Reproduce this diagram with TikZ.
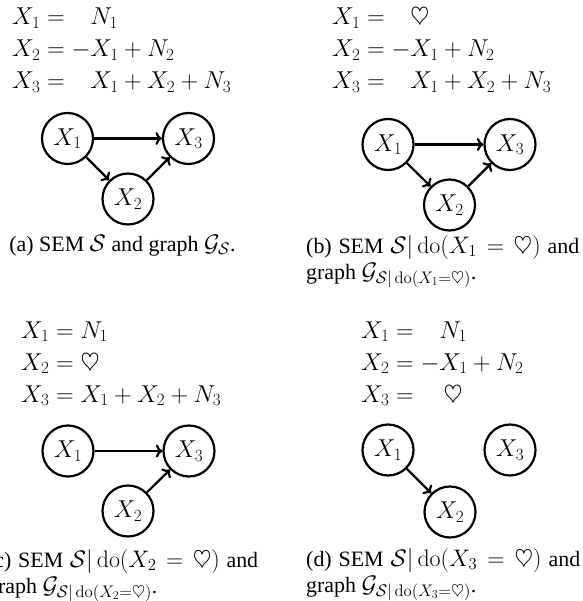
\documentclass[tikz,border=0pt]{standalone}
\usepackage{fix-cm}
\usepackage[no-math]{fontspec}
\setmainfont{Liberation Serif}
\usetikzlibrary{arrows.meta}
\newcommand{\capmath}[1]{{\fontsize{24}{28}\selectfont$#1$}}
\tikzset{
 eqtext/.style={anchor=base west, inner sep=0pt, font=\fontsize{24.5}{29}\selectfont},
 captext/.style={anchor=base west, inner sep=0pt, font=\fontsize{22}{26}\selectfont},
 varnode/.style={circle, draw, line width=2.2bp, minimum size=51bp, inner sep=0pt, font=\fontsize{24.5}{29}\selectfont},
 causal/.style={line width=2.2bp, -{To[length=6.5bp,width=13bp]}},
}
\begin{document}
\begin{tikzpicture}[x=1bp,y=-1bp]
\useasboundingbox (0,0) rectangle (583,601);
% ---------- (a)
\node[eqtext] (a1l) at (12,24.5) {$X_1 = \phantom{-}N_1$};
\node[eqtext] (a2l) at (12,57) {$X_2 = -X_1 + N_2$};
\node[eqtext] (a3l) at (12,89) {$X_3 = \phantom{-}X_1 + X_2 + N_3$};
\node[varnode] (a1) at (67.5,138.5) {$X_1$};
\node[varnode] (a3) at (188.5,138.5) {$X_3$};
\node[varnode] (a2) at (128,199) {$X_2$};
\draw[causal] (a1) -- (a3);
\draw[causal] (a1) -- (a2);
\draw[causal] (a2) -- (a3);
\node[captext, anchor=base] (acap) at (122.5,251) {(a) SEM \capmath{\mathcal{S}} and graph \capmath{\mathcal{G}_{\mathcal{S}}}.};
% ---------- (b)
\node[eqtext] (b1l) at (332,24.5) {$X_1 = \phantom{-}\heartsuit$};
\node[eqtext] (b2l) at (332,57) {$X_2 = -X_1 + N_2$};
\node[eqtext] (b3l) at (332,89) {$X_3 = \phantom{-}X_1 + X_2 + N_3$};
\node[varnode] (b1) at (388,144.5) {$X_1$};
\node[varnode] (b3) at (510,144.5) {$X_3$};
\node[varnode] (b2) at (449.5,205) {$X_2$};
\draw[causal] (b1) -- (b3);
\draw[causal] (b1) -- (b2);
\draw[causal] (b2) -- (b3);
\node[captext] (bcap1) at (306,253) {\makebox[273bp][s]{(b) SEM \capmath{\mathcal{S}|\,\mathrm{do}(X_1 = \heartsuit)} and}};
\node[captext] (bcap2) at (306,279) {graph \capmath{\mathcal{G}_{\mathcal{S}|\,\mathrm{do}(X_1=\heartsuit)}}.};
% ---------- (c)
\node[eqtext] (c1) at (21,338) {$X_1 = N_1$};
\node[eqtext] (c2) at (21,370) {$X_2 = \heartsuit$};
\node[eqtext] (c3) at (21,402) {$X_3 = X_1 + X_2 + N_3$};
\node[varnode] (cx1) at (68,451) {$X_1$};
\node[varnode] (cx3) at (189,451) {$X_3$};
\node[varnode] (cx2) at (128,511) {$X_2$};
\draw[causal] (cx1) -- (cx3);
\draw[causal] (cx2) -- (cx3);
\node[captext] (ccap1) at (-13,567) {\makebox[271bp][s]{(c) SEM \capmath{\mathcal{S}|\,\mathrm{do}(X_2 = \heartsuit)} and}};
\node[captext] (ccap2) at (-13,593) {graph \capmath{\mathcal{G}_{\mathcal{S}|\,\mathrm{do}(X_2=\heartsuit)}}.};
% ---------- (d)
\node[eqtext] (d1l) at (361,338) {$X_1 = \phantom{-}N_1$};
\node[eqtext] (d2) at (361,370) {$X_2 = -X_1 + N_2$};
\node[eqtext] (d3l) at (361,402) {$X_3 = \phantom{-}\,\heartsuit$};
\node[varnode] (dx1) at (388,450) {$X_1$};
\node[varnode] (dx3) at (510,450) {$X_3$};
\node[varnode] (dx2) at (450,512) {$X_2$};
\draw[causal] (dx1) -- (dx2);
\node[captext] (dcap1) at (306,566) {\makebox[274bp][s]{(d) SEM \capmath{\mathcal{S}|\,\mathrm{do}(X_3 = \heartsuit)} and}};
\node[captext] (dcap2) at (306,592) {graph \capmath{\mathcal{G}_{\mathcal{S}|\,\mathrm{do}(X_3=\heartsuit)}}.};
\end{tikzpicture}
\end{document}
